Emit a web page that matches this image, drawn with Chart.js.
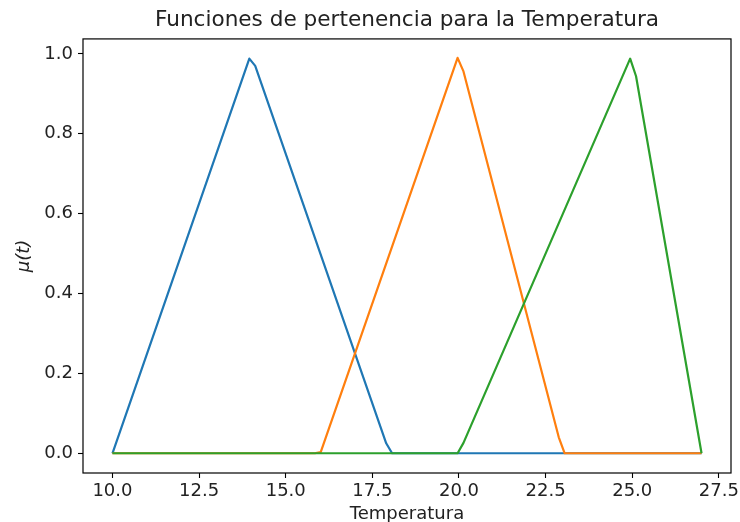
<!DOCTYPE html>
<html>
<head>
<meta charset="utf-8">
<script src="https://cdn.jsdelivr.net/npm/chart.js@4"></script>
<style>
html,body{margin:0;padding:0;background:#fff;}
#wrap{width:740px;height:522px;}
</style>
</head>
<body>
<div id="wrap"><canvas id="c" width="740" height="522"></canvas></div>
<script>
// Breakpoints (temperature, membership)
const blueX   = [10.0, 13.95, 14.12, 17.90, 18.07, 27.0];
const blueY   = [0.0, 0.988, 0.970, 0.025, 0.0, 0.0];
const orangeX = [10.0, 15.84, 16.01, 19.96, 20.13, 22.88, 23.05, 27.0];
const orangeY = [0.0, 0.0, 0.003, 0.990, 0.956, 0.040, 0.0, 0.0];
const greenX  = [10.0, 19.96, 20.13, 24.94, 25.11, 27.0];
const greenY  = [0.0, 0.0, 0.026, 0.988, 0.944, 0.0];
const xTicks = [10.0, 12.5, 15.0, 17.5, 20.0, 22.5, 25.0, 27.5];
const yTicks = [0.0, 0.2, 0.4, 0.6, 0.8, 1.0];

const pts = (xs, ys) => xs.map((x, i) => ({x: x, y: ys[i]}));
const FONT = "'DejaVu Sans', sans-serif";
const TXT = '#222';

const boxPlugin = {
  id: 'box',
  afterDatasetsDraw(chart) {
    const a = chart.chartArea, ctx = chart.ctx;
    ctx.save();
    ctx.strokeStyle = '#000';
    ctx.lineWidth = 1.2;
    ctx.strokeRect(a.left, a.top, a.right - a.left, a.bottom - a.top);
    ctx.restore();
  }
};

new Chart(document.getElementById('c'), {
  type: 'line',
  data: {
    datasets: [
      {data: pts(blueX, blueY), borderColor: '#1f77b4', order: 3},
      {data: pts(orangeX, orangeY), borderColor: '#ff7f0e', order: 2},
      {data: pts(greenX, greenY), borderColor: '#2ca02c', order: 1}
    ]
  },
  options: {
    responsive: false,
    animation: false,
    layout: {padding: {left: 0, right: 9, top: 0, bottom: 0}},
    elements: {
      point: {radius: 0},
      line: {borderWidth: 2.2, tension: 0, fill: false, borderCapStyle: 'butt', borderJoinStyle: 'round'}
    },
    plugins: {
      legend: {display: false},
      tooltip: {enabled: false},
      title: {
        display: true,
        fullSize: false,
        text: 'Funciones de pertenencia para la Temperatura',
        color: TXT,
        font: {family: FONT, size: 21.6, weight: 'normal'},
        padding: {top: 7, bottom: 6}
      }
    },
    scales: {
      x: {
        type: 'linear',
        min: 9.15, max: 27.85,
        afterBuildTicks: s => { s.ticks = xTicks.map(v => ({value: v})); },
        afterFit: s => { s.height = 49; s.paddingLeft = 0; s.paddingRight = 0; },
        grid: {drawOnChartArea: false, drawTicks: true, tickLength: 5, color: '#000', tickWidth: 1.1},
        border: {display: false},
        ticks: {color: TXT, font: {family: FONT, size: 18}, padding: 3, maxRotation: 0,
                callback: v => Number(v).toFixed(1)},
        title: {display: true, text: 'Temperatura', color: TXT, font: {family: FONT, size: 18}, padding: {top: 0, bottom: -3}}
      },
      y: {
        type: 'linear',
        min: -0.0494, max: 1.0374,
        afterBuildTicks: s => { s.ticks = yTicks.map(v => ({value: v})); },
        afterFit: s => { s.width = 83; s.paddingTop = 0; s.paddingBottom = 0; },
        grid: {drawOnChartArea: false, drawTicks: true, tickLength: 5, color: '#000', tickWidth: 1.1},
        border: {display: false},
        ticks: {color: TXT, font: {family: FONT, size: 18}, padding: 5,
                callback: v => Number(v).toFixed(1)},
        title: {display: true, text: 'μ(t)', color: TXT, font: {family: FONT, size: 18, style: 'italic'}, padding: {top: 14, bottom: 0}}
      }
    }
  },
  plugins: [boxPlugin]
});
</script>
</body>
</html>
